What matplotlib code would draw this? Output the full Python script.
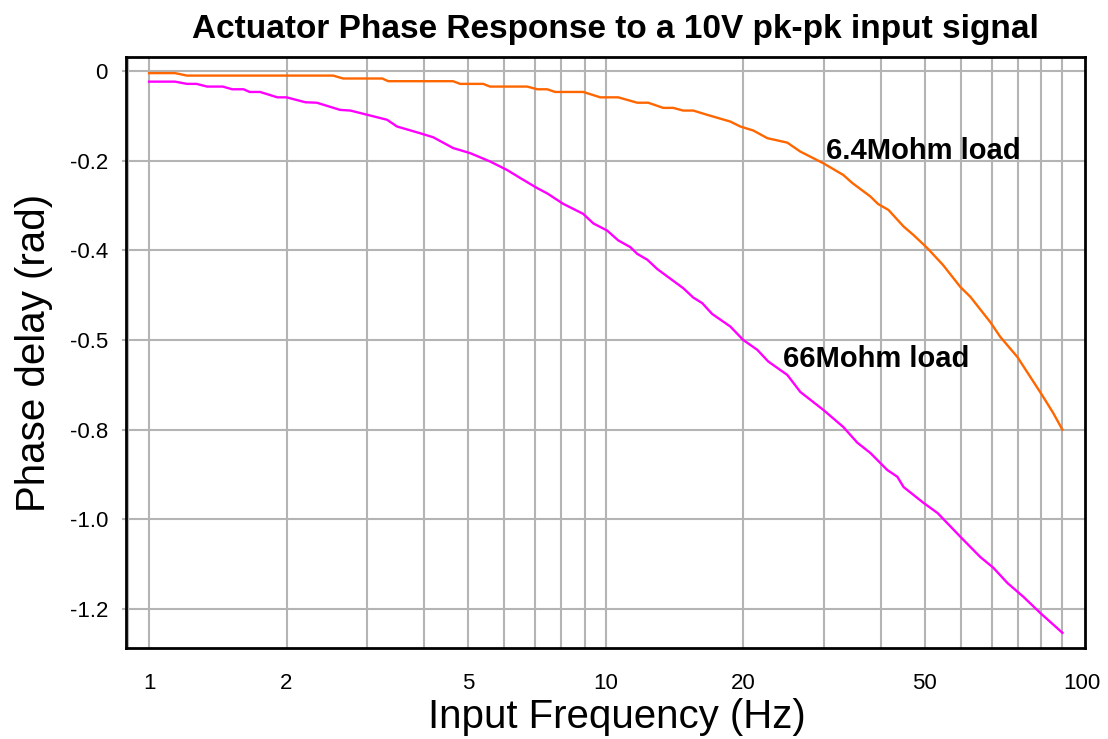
import numpy as np
import matplotlib
matplotlib.use("Agg")
import matplotlib.pyplot as plt
from matplotlib.ticker import LogLocator, NullFormatter
from matplotlib.transforms import ScaledTranslation

plt.rcParams['font.family'] = ['Liberation Sans', 'DejaVu Sans']

# 6.4 Mohm load
f_64 = [1.00, 1.14, 1.21, 2.53, 2.66, 3.24, 3.34, 4.63, 4.80, 5.39, 5.58, 6.73, 7.08,
        7.44, 7.75, 8.93, 9.73, 10.65, 11.72, 12.39, 13.36, 14.05, 14.78, 15.55,
        16.68, 18.74, 19.71, 21.05, 22.58, 24.98, 26.68, 29.96, 33.12, 34.67, 37.97,
        39.5, 41.6, 44.9, 47.2, 50.6, 54.8, 59.8, 62.9, 69.5, 73.1, 79.7, 86.4,
        90.8, 95.5, 100.0]
ph_64 = [-0.005, -0.005, -0.0105, -0.0105, -0.017, -0.017, -0.023, -0.023, -0.029,
         -0.029, -0.035, -0.035, -0.041, -0.041, -0.047, -0.047, -0.059, -0.059,
         -0.071, -0.071, -0.0825, -0.0825, -0.0885, -0.0885, -0.098, -0.113, -0.124,
         -0.133, -0.150, -0.160, -0.180, -0.206, -0.232, -0.250, -0.280, -0.297,
         -0.310, -0.347, -0.366, -0.395, -0.433, -0.482, -0.504, -0.560, -0.593,
         -0.638, -0.693, -0.727, -0.763, -0.800]

# 66 Mohm load
f_66 = [1.00, 1.14, 1.21, 1.27, 1.34, 1.45, 1.52, 1.61, 1.66, 1.75, 1.91, 2.00, 2.20,
        2.33, 2.62, 2.76, 3.32, 3.49, 3.92, 4.19, 4.63, 5.05, 5.58, 6.08, 6.50, 7.08,
        7.44, 8.07, 8.93, 9.39, 10.07, 10.65, 11.32, 11.72, 12.33, 12.97, 14.78,
        15.55, 16.27, 17.10, 18.74, 20.0, 21.47, 22.69, 24.98, 26.68, 29.96, 33.12,
        35.55, 37.97, 41.36, 43.5, 44.9, 49.6, 53.3, 59.8, 66.1, 70.6, 75.8, 82.2,
        89.5, 100.0]
ph_66 = [-0.024, -0.024, -0.029, -0.029, -0.035, -0.035, -0.041, -0.041, -0.047,
         -0.047, -0.059, -0.059, -0.070, -0.071, -0.087, -0.0885, -0.109, -0.124,
         -0.139, -0.148, -0.172, -0.1835, -0.202, -0.221, -0.239, -0.2615, -0.273,
         -0.2965, -0.319, -0.340, -0.356, -0.378, -0.393, -0.408, -0.421, -0.442,
         -0.4845, -0.5055, -0.518, -0.542, -0.570, -0.600, -0.622, -0.648, -0.678,
         -0.716, -0.756, -0.794, -0.829, -0.852, -0.890, -0.905, -0.928, -0.963,
         -0.986, -1.039, -1.084, -1.108, -1.142, -1.173, -1.209, -1.253]

xtick_vals = [1, 2, 5, 10, 20, 50, 100]
xtick_labels = ['1', '2', '5', '10', '20', '50', '100']
ytick_vals = [0, -0.2, -0.4, -0.6, -0.8, -1.0, -1.2]
ytick_labels = ['0', '-0.2', '-0.4', '-0.5', '-0.8', '-1.0', '-1.2']

fig = plt.figure(figsize=(11.08, 7.39), dpi=100)
ax = fig.add_axes([0.1137, 0.1231, 0.8654, 0.7998])

ax.plot(f_64, ph_64, color='#ff6600', lw=1.7, zorder=3)
ax.plot(f_66, ph_66, color='#ff00ff', lw=1.7, zorder=3)

ax.set_xscale('log')
ax.set_xlim(0.89, 112)
ax.set_ylim(-1.287, 0.031)

ax.set_xticks(xtick_vals)
ax.set_xticklabels(xtick_labels)
ax.xaxis.set_minor_locator(LogLocator(base=10, subs=np.arange(2, 10)))
ax.xaxis.set_minor_formatter(NullFormatter())
ax.set_yticks(ytick_vals)
ax.set_yticklabels(ytick_labels)

ax.grid(True, which='both', axis='x', color='#b4b4b4', lw=1.5)
ax.grid(True, which='major', axis='y', color='#b4b4b4', lw=1.5)
ax.set_axisbelow(True)

ax.tick_params(axis='x', which='both', length=0, pad=18, labelsize=16)
ax.tick_params(axis='y', length=3, color='#b4b4b4', width=1.5, pad=10, labelsize=16)

for s in ax.spines.values():
    s.set_linewidth(2)
    s.set_color('black')

# the "100" label sits a bit to the right in the original
lbl = ax.get_xticklabels()[-1]
lbl.set_transform(lbl.get_transform() + ScaledTranslation(0.2, 0, fig.dpi_scale_trans))

ax.set_title('Actuator Phase Response to a 10V pk-pk input signal',
             fontsize=24, fontweight='bold', pad=14, x=0.51)
ax.set_xlabel('Input Frequency (Hz)', fontsize=29, labelpad=6)
ax.xaxis.set_label_coords(0.512, -0.085)
ax.set_ylabel('Phase delay (rad)', fontsize=29, labelpad=12)

ax.text(30.3, -0.196, '6.4Mohm load', fontsize=21, fontweight='bold', va='baseline')
ax.text(24.4, -0.660, '66Mohm load', fontsize=21, fontweight='bold', va='baseline')

fig.savefig('out.png', dpi=100)
